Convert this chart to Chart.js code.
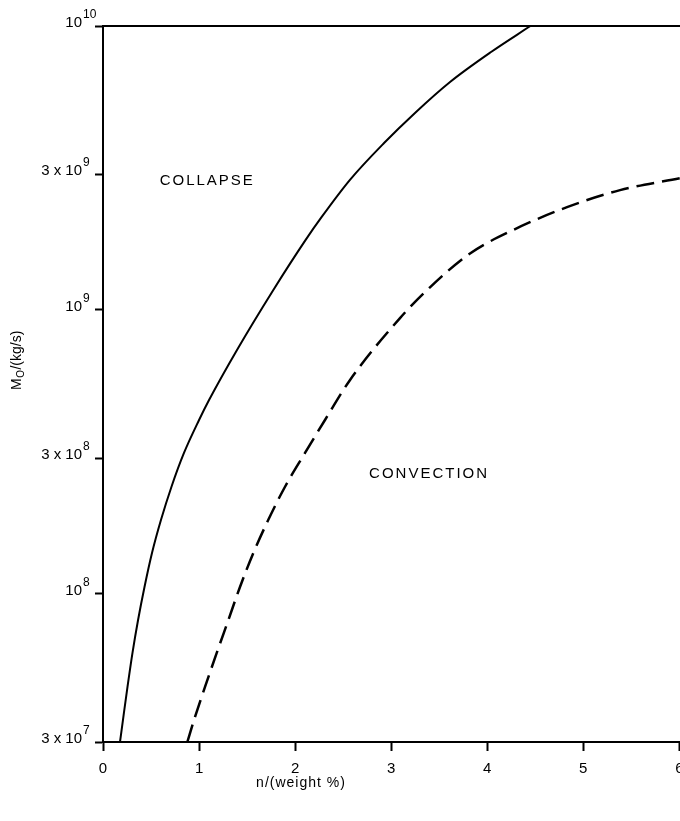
<!DOCTYPE html>
<html>
<head>
<meta charset="utf-8">
<script src="https://cdn.jsdelivr.net/npm/chart.js@4"></script>
<style>
  body { margin: 0; background: #fff; }
  #wrap { width: 680px; height: 821px; }
</style>
</head>
<body>
<div id="wrap"><canvas id="myChart" width="680" height="821"></canvas></div>
<script>
// solid line: collapse boundary
var solidN = [0.177, 0.208, 0.255, 0.307, 0.365, 0.432, 0.510, 0.604, 0.713, 0.843, 1.000, 1.104, 1.395, 1.770, 2.108, 2.275, 2.571, 2.926, 3.248, 3.613, 4.040, 4.45];
var solidM = [3.0e7, 3.59e7, 4.69e7, 6.18e7, 8.07e7, 1.055e8, 1.39e8, 1.82e8, 2.38e8, 3.13e8, 4.09e8, 4.81e8, 7.22e8, 1.17e9, 1.76e9, 2.12e9, 2.87e9, 3.87e9, 4.94e9, 6.35e9, 8.1e9, 1.0e10];

// dashed line: convection boundary
var dashN = [0.878, 0.948, 1.062, 1.184, 1.305, 1.426, 1.565, 1.721, 1.895, 2.103, 2.311, 2.572, 3.092, 3.404, 3.821, 4.269, 4.831, 5.383, 6.007];
var dashM = [3.0e7, 3.59e7, 4.69e7, 6.18e7, 8.07e7, 1.055e8, 1.39e8, 1.82e8, 2.38e8, 3.13e8, 4.09e8, 5.66e8, 9.35e8, 1.20e9, 1.58e9, 1.91e9, 2.30e9, 2.64e9, 2.91e9];

var xTicks = [0, 1, 2, 3, 4, 5, 6];
var yTicks = [3e7, 1e8, 3e8, 1e9, 3e9, 1e10];
var yTickBase = ['3 x 10', '10', '3 x 10', '10', '3 x 10', '10'];
var yTickExp = ['7', '8', '8', '9', '9', '10'];

var regionNames = ['COLLAPSE', 'CONVECTION'];
var regionN = [0.59, 2.77];
var regionM = [2.75e9, 2.55e8];

var FONT = '"Liberation Sans", Arial, Helvetica, sans-serif';

function toPoints(xs, ys) {
  return xs.map(function (x, i) { return { x: x, y: ys[i] }; });
}

var labelsPlugin = {
  id: 'labelsPlugin',
  afterDraw: function (chart) {
    var ctx = chart.ctx;
    var area = chart.chartArea;
    var xs = chart.scales.x;
    var ys = chart.scales.y;
    ctx.save();
    ctx.fillStyle = '#000';
    ctx.strokeStyle = '#000';

    // top frame line
    ctx.lineWidth = 2;
    ctx.beginPath();
    ctx.moveTo(area.left, area.top);
    ctx.lineTo(area.right, area.top);
    ctx.stroke();

    // y tick labels with exponents
    ctx.textBaseline = 'alphabetic';
    yTicks.forEach(function (v, i) {
      var py = ys.getPixelForValue(v);
      ctx.font = '15px ' + FONT;
      ctx.textAlign = 'right';
      ctx.fillText(yTickBase[i], 82, py + 1);
      ctx.font = '12px ' + FONT;
      ctx.textAlign = 'left';
      ctx.fillText(yTickExp[i], 83, py - 8);
    });

    // x tick labels
    ctx.font = '15px ' + FONT;
    ctx.textAlign = 'center';
    xTicks.forEach(function (v) {
      ctx.fillText(String(v), xs.getPixelForValue(v), 773);
    });

    // region names
    ctx.font = '15px ' + FONT;
    ctx.textAlign = 'left';
    ctx.letterSpacing = '2px';
    regionNames.forEach(function (name, i) {
      ctx.fillText(name, xs.getPixelForValue(regionN[i]), ys.getPixelForValue(regionM[i]));
    });

    // x axis title
    ctx.font = '14px ' + FONT;
    ctx.letterSpacing = '1px';
    ctx.textAlign = 'center';
    ctx.fillText('n/(weight %)', 301, 787);

    // y axis title, rotated
    ctx.letterSpacing = '0px';
    ctx.translate(21, 390);
    ctx.rotate(-Math.PI / 2);
    ctx.textAlign = 'left';
    ctx.font = '14px ' + FONT;
    ctx.fillText('M', 0, 0);
    var w = ctx.measureText('M').width;
    ctx.font = '10px ' + FONT;
    ctx.fillText('O', w + 0.5, 3);
    var wo = ctx.measureText('O').width;
    ctx.font = '14px ' + FONT;
    ctx.fillText('/(kg/s)', w + wo + 1, 0);
    ctx.restore();
  }
};

var ctx = document.getElementById('myChart').getContext('2d');
var myChart = new Chart(ctx, {
  type: 'line',
  data: {
    datasets: [{
      label: 'collapse',
      data: toPoints(solidN, solidM),
      borderColor: '#000',
      borderWidth: 2,
      pointRadius: 0,
      fill: false,
      cubicInterpolationMode: 'monotone'
    }, {
      label: 'convection',
      data: toPoints(dashN, dashM),
      borderColor: '#000',
      borderWidth: 2.5,
      borderDash: [18, 8],
      pointRadius: 0,
      fill: false,
      cubicInterpolationMode: 'monotone'
    }]
  },
  options: {
    responsive: false,
    animation: false,
    devicePixelRatio: 1,
    layout: { padding: { top: 26, right: 0, left: 0, bottom: 0 } },
    plugins: { legend: { display: false }, tooltip: { enabled: false } },
    scales: {
      x: {
        type: 'linear',
        min: 0,
        max: 6.007,
        afterBuildTicks: function (s) { s.ticks = xTicks.map(function (v) { return { value: v }; }); },
        afterFit: function (s) { s.height = 79; },
        ticks: { display: false },
        grid: { drawOnChartArea: false, drawTicks: true, tickLength: 9, tickWidth: 2, tickColor: '#000' },
        border: { display: true, color: '#000', width: 2 }
      },
      y: {
        type: 'logarithmic',
        min: 3e7,
        max: 1e10,
        afterBuildTicks: function (s) { s.ticks = yTicks.map(function (v) { return { value: v }; }); },
        afterFit: function (s) { s.width = 103; },
        ticks: { display: false },
        grid: { drawOnChartArea: false, drawTicks: true, tickLength: 8, tickWidth: 2, tickColor: '#000' },
        border: { display: true, color: '#000', width: 2 }
      }
    }
  },
  plugins: [labelsPlugin]
});
</script>
</body>
</html>
